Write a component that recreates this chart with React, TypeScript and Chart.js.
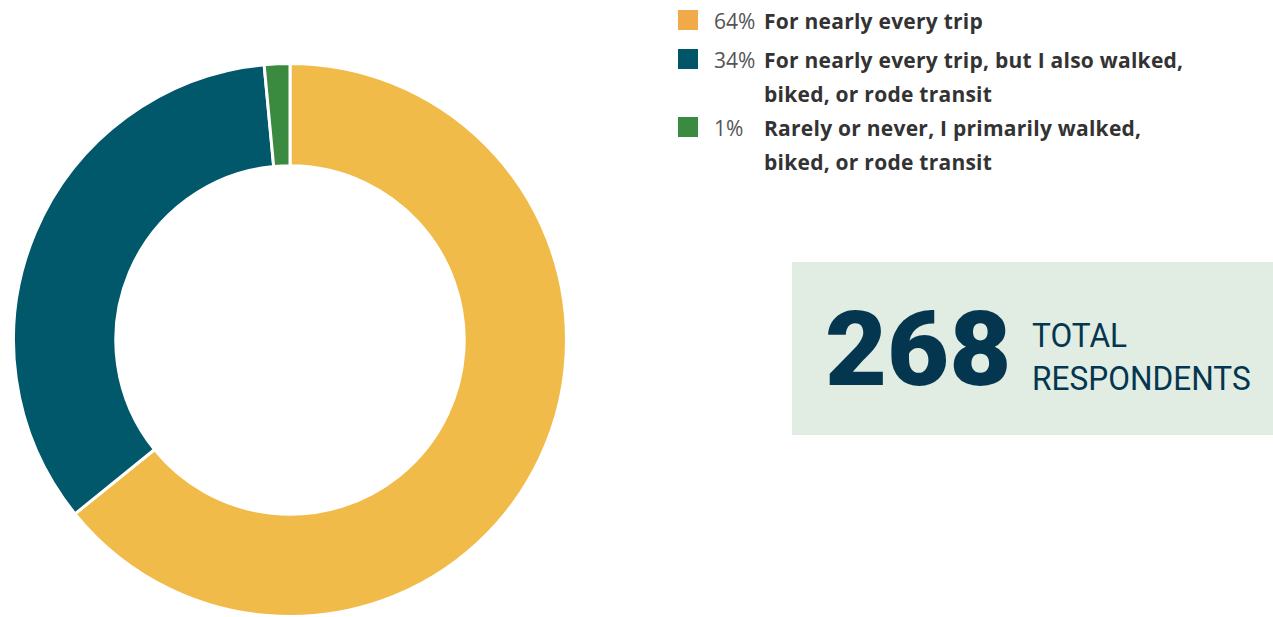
import React, { useEffect, useRef } from "react";
import { Chart, registerables } from "chart.js";

Chart.register(...registerables);

const categories = [
  "For nearly every trip",
  "For nearly every trip, but I also walked, biked, or rode transit",
  "Rarely or never, I primarily walked, biked, or rode transit",
];
const legendLines = [
  ["For nearly every trip"],
  ["For nearly every trip, but I also walked,", "biked, or rode transit"],
  ["Rarely or never, I primarily walked,", "biked, or rode transit"],
];
const counts = [172, 92, 4];
const percentLabels = ["64%", "34%", "1%"];
const sliceColors = ["#F0BB48", "#02586B", "#3A8B3F"];
const legendColors = ["#F2A94A", "#005568", "#3A8A3F"];
const totalRespondents = 268;

export default function App() {
  const ref = useRef<HTMLCanvasElement | null>(null);

  useEffect(() => {
    if (!ref.current) return;
    const chart = new Chart(ref.current, {
      type: "doughnut",
      data: {
        labels: categories,
        datasets: [
          {
            data: counts,
            backgroundColor: sliceColors,
            borderColor: "#ffffff",
            borderWidth: 3,
          },
        ],
      },
      options: {
        responsive: false,
        animation: false,
        cutout: "63%",
        layout: { padding: 0 },
        plugins: {
          legend: { display: false },
          tooltip: { enabled: false },
          title: { display: false },
        },
      },
    });
    return () => chart.destroy();
  }, []);

  return (
    <div
      style={{
        position: "absolute",
        left: 0,
        top: 0,
        width: 1273,
        height: 617,
        background: "#ffffff",
        overflow: "hidden",
        fontFamily: "'Open Sans', sans-serif",
      }}
    >
      <canvas
        ref={ref}
        width={556}
        height={556}
        style={{ position: "absolute", left: 12, top: 62, width: 556, height: 556 }}
      />
      {legendLines.map((lines, i) => {
        const tops = [4, 43, 111];
        return (
          <div key={i} style={{ position: "absolute", left: 678, top: tops[i] }}>
            <div
              style={{
                position: "absolute",
                left: 0,
                top: 6,
                width: 20,
                height: 20,
                background: legendColors[i],
              }}
            />
            <div
              style={{
                position: "absolute",
                left: 36,
                top: 0,
                fontSize: 21,
                lineHeight: "34px",
                color: "#555555",
                whiteSpace: "nowrap",
              }}
            >
              {percentLabels[i]}
            </div>
            <div
              style={{
                position: "absolute",
                left: 86,
                top: 0,
                fontSize: 21,
                lineHeight: "34px",
                fontWeight: 700,
                color: "#333333",
                letterSpacing: 0.25,
                whiteSpace: "nowrap",
              }}
            >
              {lines.map((l, j) => (
                <div key={j}>{l}</div>
              ))}
            </div>
          </div>
        );
      })}
      <div
        style={{
          position: "absolute",
          left: 792,
          top: 262,
          width: 481,
          height: 173,
          background: "#E1ECE2",
        }}
      >
        <div
          style={{
            position: "absolute",
            left: 33,
            top: 28,
            fontFamily: "Roboto, sans-serif",
            fontWeight: 900,
            fontSize: 103,
            lineHeight: "120px",
            color: "#04374F",
            transform: "scaleX(1.04)",
            transformOrigin: "left top",
          }}
        >
          {totalRespondents}
        </div>
        <div
          style={{
            position: "absolute",
            left: 240,
            top: 52,
            fontFamily: "Roboto, sans-serif",
            fontSize: 34,
            lineHeight: "43px",
            color: "#04374F",
            transform: "scaleX(0.93)",
            transformOrigin: "left top",
            whiteSpace: "nowrap",
          }}
        >
          <div>TOTAL</div>
          <div>RESPONDENTS</div>
        </div>
      </div>
    </div>
  );
}
